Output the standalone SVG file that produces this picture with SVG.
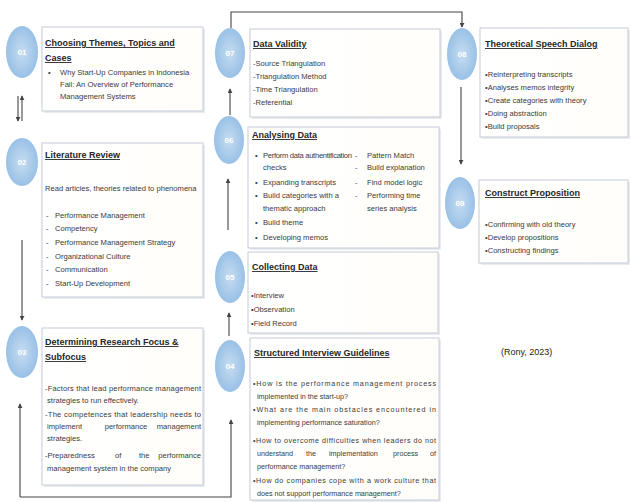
<svg xmlns="http://www.w3.org/2000/svg" width="631" height="502" viewBox="0 0 631 502">
<defs>
<radialGradient id="cg" cx="50%" cy="50%" r="55%">
<stop offset="0" stop-color="#c6dcf1"/>
<stop offset="1" stop-color="#94bee5"/>
</radialGradient>
<linearGradient id="bg" x1="0" y1="0" x2="1" y2="0">
<stop offset="0" stop-color="#ffffff"/>
<stop offset="1" stop-color="#fffefa"/>
</linearGradient>
<marker id="ah" viewBox="0 0 6 6" refX="5" refY="3" markerWidth="5" markerHeight="5" orient="auto" markerUnits="userSpaceOnUse">
<path d="M0,0 L6,3 L0,6 Z" fill="#444"/>
</marker>
<style>
.box{fill:url(#bg);stroke:#c3ccd8;stroke-width:1}
.sh{fill:#e9ebee}
.cir{fill:url(#cg)}
.num{font-family:"Liberation Sans",Arial,sans-serif;font-size:8px;font-weight:bold;fill:#ffffff;text-anchor:middle}
.t{font-family:"Liberation Sans",Arial,sans-serif;font-size:9px;font-weight:bold;text-decoration:underline;fill:#262626}
.b{font-family:"Liberation Sans",Arial,sans-serif;font-size:7.6px;fill:#3a3a3a}
.s{font-family:"Liberation Sans",Arial,sans-serif;font-size:7.2px;fill:#3a3a3a}
.e{text-anchor:end}
.m{text-anchor:middle}
.c{fill:none;stroke:#444;stroke-width:1.1}
.ref{font-family:"Liberation Sans",Arial,sans-serif;font-size:9px;fill:#1a1a1a}
</style>
</defs>
<rect width="631" height="502" fill="#ffffff"/>

<g id="connectors">
<path class="c" d="M18,96 V121" marker-end="url(#ah)"/>
<path class="c" d="M22,121 V96" marker-end="url(#ah)"/>
<path class="c" d="M22,240 V320" marker-end="url(#ah)"/>
<path class="c" d="M20,497 V404" marker-end="url(#ah)"/>
<path class="c" d="M20,497 H231 V420" marker-end="url(#ah)"/>
<path class="c" d="M229,336 V313" marker-end="url(#ah)"/>
<path class="c" d="M228,230 V179" marker-end="url(#ah)"/>
<path class="c" d="M230,115 V89" marker-end="url(#ah)"/>
<path class="c" d="M231,28 V12 H462 V27" marker-end="url(#ah)"/>
<path class="c" d="M461,87 V164" marker-end="url(#ah)"/>
</g>

<g id="node01">
<ellipse class="cir" cx="22" cy="52" rx="16" ry="26"/>
<text class="num" x="22" y="55">01</text>
<rect class="sh" x="44" y="29" width="161" height="84"/>
<rect class="box" x="42" y="27" width="161" height="84"/>
<text class="t" x="45" y="46">Choosing Themes, Topics and</text>
<text class="t" x="45" y="61">Cases</text>
<text class="b" x="48" y="75">•</text>
<text class="b" x="60" y="75">Why Start-Up Companies in Indonesia</text>
<text class="b" x="60" y="87">Fail: An Overview of Performance</text>
<text class="b" x="60" y="99">Management Systems</text>
</g>

<g id="node02">
<ellipse class="cir" cx="22" cy="162" rx="16" ry="24"/>
<text class="num" x="22" y="165">02</text>
<rect class="sh" x="44" y="145" width="161" height="154"/>
<rect class="box" x="42" y="143" width="161" height="154"/>
<text class="t" x="45" y="158">Literature Review</text>
<text class="b" x="45" y="191">Read articles, theories related to phenomena</text>
<text class="b" x="46" y="218">-</text><text class="b" x="55" y="218">Performance Management</text>
<text class="b" x="46" y="231">-</text><text class="b" x="55" y="231">Competency</text>
<text class="b" x="46" y="245">-</text><text class="b" x="55" y="245">Performance Management Strategy</text>
<text class="b" x="46" y="259">-</text><text class="b" x="55" y="259">Organizational Culture</text>
<text class="b" x="46" y="272">-</text><text class="b" x="55" y="272">Communication</text>
<text class="b" x="46" y="286">-</text><text class="b" x="55" y="286">Start-Up Development</text>
</g>

<g id="node03">
<ellipse class="cir" cx="22" cy="352" rx="16" ry="26"/>
<text class="num" x="22" y="355">03</text>
<rect class="sh" x="44" y="330" width="161" height="157"/>
<rect class="box" x="42" y="328" width="161" height="157"/>
<text class="t" x="45" y="345">Determining Research Focus &amp;</text>
<text class="t" x="45" y="360">Subfocus</text>
<text class="b" x="45" y="391" textLength="156">-Factors that lead performance management</text>
<text class="b" x="47" y="403">strategies to run effectively.</text>
<text class="b" x="45" y="417" textLength="156">-The competences that leadership needs to</text>
<text class="b" x="47" y="429">implement</text>
<text class="b m" x="126" y="429">performance</text>
<text class="b e" x="201" y="429">management</text>
<text class="b" x="47" y="441">strategies.</text>
<text class="b" x="45" y="458">-Preparedness</text>
<text class="b" x="115" y="458">of</text>
<text class="b" x="139" y="458">the</text>
<text class="b e" x="201" y="458">performance</text>
<text class="b" x="47" y="471">management system in the company</text>
</g>

<g id="node04">
<ellipse class="cir" cx="230" cy="366" rx="15" ry="26"/>
<text class="num" x="230" y="369">04</text>
<rect class="sh" x="252" y="340" width="189" height="162"/>
<rect class="box" x="250" y="338" width="189" height="162"/>
<text class="t" x="254" y="356">Structured Interview Guidelines</text>
<text class="s" x="253" y="386" textLength="183">•How is the performance management process</text>
<text class="s" x="257" y="399">implemented in the start-up?</text>
<text class="s" x="253" y="412" textLength="183">•What are the main obstacles encountered in</text>
<text class="s" x="257" y="425">implementing performance saturation?</text>
<text class="s" x="253" y="443" textLength="183">•How to overcome difficulties when leaders do not</text>
<text class="s" x="257" y="456">understand</text>
<text class="s" x="306" y="456">the</text>
<text class="s" x="329" y="456">implementation</text>
<text class="s" x="393" y="456">process</text>
<text class="s e" x="436" y="456">of</text>
<text class="s" x="257" y="469">performance management?</text>
<text class="s" x="253" y="483" textLength="183">•How do companies cope with a work culture that</text>
<text class="s" x="257" y="496">does not support performance management?</text>
</g>

<g id="node05">
<ellipse class="cir" cx="230" cy="277" rx="15" ry="26"/>
<text class="num" x="230" y="280">05</text>
<rect class="sh" x="250" y="254" width="190" height="81"/>
<rect class="box" x="248" y="252" width="190" height="81"/>
<text class="t" x="252" y="270">Collecting Data</text>
<text class="b" x="251" y="298">•Interview</text>
<text class="b" x="251" y="312">•Observation</text>
<text class="b" x="251" y="326">•Field Record</text>
</g>

<g id="node06">
<ellipse class="cir" cx="229" cy="140" rx="15" ry="24"/>
<text class="num" x="229" y="143">06</text>
<rect class="sh" x="250" y="129" width="191" height="121"/>
<rect class="box" x="248" y="127" width="191" height="121"/>
<text class="t" x="252" y="138">Analysing Data</text>
<text class="b" x="255" y="158">•</text><text class="b" x="263" y="158" textLength="89">Perform data authentification</text>
<text class="b" x="263" y="170">checks</text>
<text class="b" x="255" y="185">•</text><text class="b" x="263" y="185">Expanding transcripts</text>
<text class="b" x="255" y="198">•</text><text class="b" x="263" y="198">Build categories with a</text>
<text class="b" x="263" y="211">thematic approach</text>
<text class="b" x="255" y="225">•</text><text class="b" x="263" y="225">Build theme</text>
<text class="b" x="255" y="240">•</text><text class="b" x="263" y="240">Developing memos</text>
<text class="b" x="355" y="158">-</text><text class="b" x="367" y="158">Pattern Match</text>
<text class="b" x="355" y="170">-</text><text class="b" x="367" y="170">Build explanation</text>
<text class="b" x="355" y="185">-</text><text class="b" x="367" y="185">Find model logic</text>
<text class="b" x="355" y="198">-</text><text class="b" x="367" y="198">Performing time</text>
<text class="b" x="367" y="211">series analysis</text>
</g>

<g id="node07">
<ellipse class="cir" cx="230" cy="53" rx="15" ry="25"/>
<text class="num" x="230" y="56">07</text>
<rect class="sh" x="252" y="31" width="190" height="88"/>
<rect class="box" x="250" y="29" width="190" height="88"/>
<text class="t" x="253" y="47">Data Validity</text>
<text class="b" x="253" y="66">-Source Triangulation</text>
<text class="b" x="253" y="79">-Triangulation Method</text>
<text class="b" x="253" y="92">-Time Triangulation</text>
<text class="b" x="253" y="105">-Referential</text>
</g>

<g id="node08">
<ellipse class="cir" cx="462" cy="54" rx="15" ry="26"/>
<text class="num" x="462" y="57">08</text>
<rect class="sh" x="482" y="30" width="148" height="109"/>
<rect class="box" x="480" y="28" width="148" height="109"/>
<text class="t" x="485" y="47">Theoretical Speech Dialog</text>
<text class="b" x="485" y="77">•Reinterpreting transcripts</text>
<text class="b" x="485" y="90">•Analyses memos integrity</text>
<text class="b" x="485" y="103">•Create categories with theory</text>
<text class="b" x="485" y="116">•Doing abstraction</text>
<text class="b" x="485" y="129">•Build proposals</text>
</g>

<g id="node09">
<ellipse class="cir" cx="460" cy="203" rx="15" ry="26"/>
<text class="num" x="460" y="206">09</text>
<rect class="sh" x="481" y="182" width="149" height="83"/>
<rect class="box" x="479" y="180" width="149" height="83"/>
<text class="t" x="485" y="196">Construct Proposition</text>
<text class="b" x="485" y="227">•Confirming with old theory</text>
<text class="b" x="485" y="240">•Develop propositions</text>
<text class="b" x="485" y="253">•Constructing findings</text>
</g>

<text class="ref" x="501" y="355">(Rony, 2023)</text>
</svg>
